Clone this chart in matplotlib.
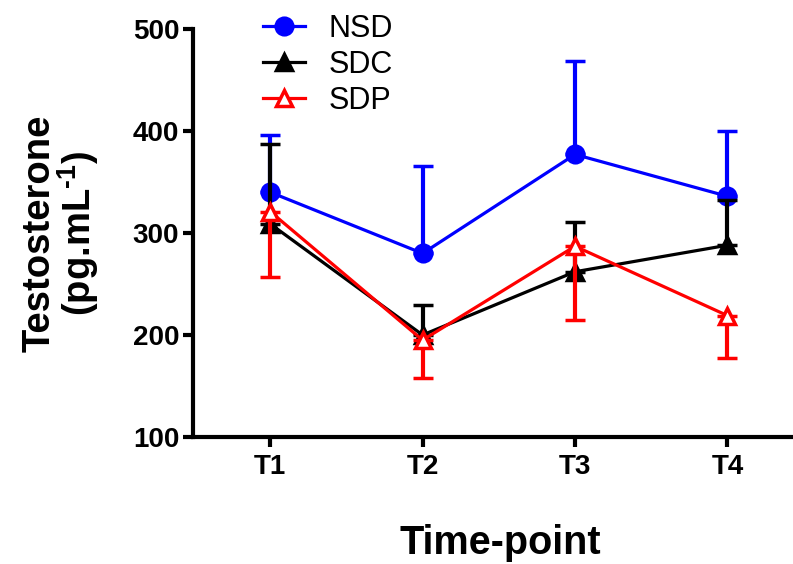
import numpy as np
import matplotlib.pyplot as plt

plt.rcParams['font.family'] = ['Liberation Sans', 'DejaVu Sans']
plt.rcParams['mathtext.fontset'] = 'custom'
plt.rcParams['mathtext.rm'] = 'Liberation Sans:bold'
plt.rcParams['mathtext.default'] = 'rm'

timepoints = ['T1', 'T2', 'T3', 'T4']

# means and one-sided SEM (pg/mL)
nsd = [340, 280, 377, 336]
nsd_err = [56, 86, 92, 64]      # drawn upward
sdc = [309, 200, 262, 288]
sdc_err = [78, 29, 49, 44]      # drawn upward
sdp = [321, 195, 287, 219]
sdp_err = [64, 37, 72, 42]      # drawn downward

x = np.arange(1, len(timepoints) + 1)
zeros = np.zeros(len(x))

fig = plt.figure(figsize=(7.93, 5.64), dpi=100)
ax = fig.add_axes([0.2434, 0.2252, 0.7566, 0.7234])

series = [
    ('NSD', nsd, [zeros, nsd_err], 'blue', 'o', 'blue', 12),
    ('SDC', sdc, [zeros, sdc_err], 'black', '^', 'black', 11),
    ('SDP', sdp, [sdp_err, zeros], 'red', '^', 'white', 11),
]

handles = []
for i, (name, vals, err, col, mk, face, ms) in enumerate(series):
    c = ax.errorbar(x, vals, yerr=err, color=col, lw=2.3, marker=mk, ms=ms,
                    mfc=face, mec=col, mew=2.5, elinewidth=3, capsize=7,
                    capthick=3.2, label=name, zorder=3 + i)
    handles.append(c[0])

ax.set_xlim(0.494, 4.43)
ax.set_ylim(100, 500)
ax.set_xticks(x)
ax.set_xticklabels(timepoints)
ax.set_yticks([100, 200, 300, 400, 500])

for s in ['top', 'right']:
    ax.spines[s].set_visible(False)
for s in ['left', 'bottom']:
    ax.spines[s].set_linewidth(3)
ax.tick_params(width=3, length=7, labelsize=20, pad=3)
ax.tick_params(axis='x', pad=5)
for lab in ax.get_xticklabels() + ax.get_yticklabels():
    lab.set_fontweight('bold')

ax.set_ylabel('Testosterone\n(pg.mL$^{\\text{-1}}$)', fontsize=27.5,
              fontweight='bold', labelpad=23, linespacing=0.93)
ax.set_xlabel('Time-point', fontsize=28.5, fontweight='bold', labelpad=32)
ax.xaxis.label.set_x(0.513)

ax.legend(handles, ['NSD', 'SDC', 'SDP'], loc='upper left',
          bbox_to_anchor=(0.312, 1.003), bbox_transform=fig.transFigure,
          frameon=False, fontsize=22, handlelength=1.4, handletextpad=0.75,
          labelspacing=0.2, borderpad=0)

fig.savefig('out.png', dpi=100)
